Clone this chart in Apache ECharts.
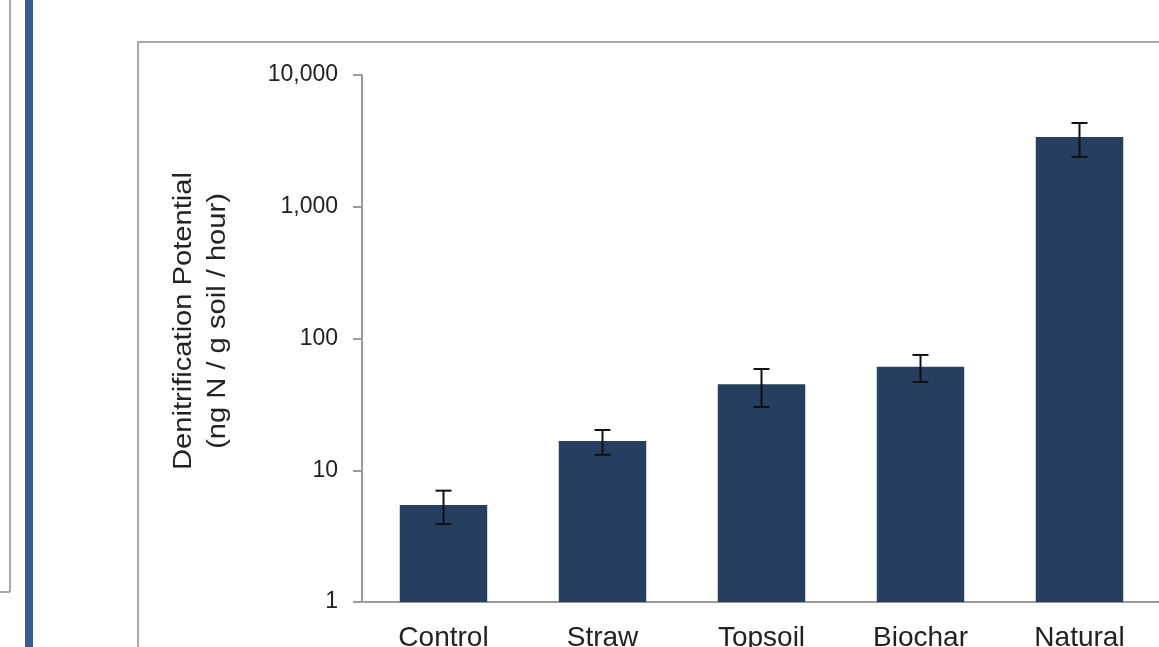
<!DOCTYPE html>
<html>
<head>
<meta charset="utf-8">
<script src="https://cdn.jsdelivr.net/npm/echarts@6/dist/echarts.min.js"></script>
<style>
  html, body { margin: 0; padding: 0; background: #fff; }
  #chart { width: 1159px; height: 647px; }
</style>
</head>
<body>
<div id="chart"></div>
<script>
// data
var categories = ['Control', 'Straw', 'Topsoil', 'Biochar', 'Natural'];
var means = [5.45, 16.7, 45, 61, 3380];
var errLow = [3.9, 13.1, 30.2, 46.8, 2390];
var errHigh = [7.0, 20.2, 58.7, 75, 4320];

var myChart = echarts.init(document.getElementById('chart'));

var errData = categories.map(function (c, i) {
    return [i, errLow[i], errHigh[i]];
});

var option = {
    animation: false,
    grid: { left: 364, top: 75, right: 0, bottom: 45, containLabel: false, outerBoundsMode: 'none' },
    xAxis: {
        type: 'category',
        data: categories,
        axisLine: { lineStyle: { color: '#9a9a9a', width: 2 } },
        axisTick: { show: false },
        axisLabel: { color: '#222', fontSize: 28, fontFamily: 'Liberation Sans, Arial', margin: 22 }
    },
    yAxis: {
        type: 'log',
        logBase: 10,
        min: 1,
        max: 10000,
        interval: 1,
        offset: 2,
        axisLine: { show: true, lineStyle: { color: '#9a9a9a', width: 2 } },
        axisTick: { show: true, length: 9, lineStyle: { color: '#9a9a9a', width: 2 } },
        splitLine: { show: false },
        axisLabel: {
            color: '#222',
            fontSize: 23,
            fontFamily: 'Liberation Sans, Arial',
            margin: 24,
            formatter: function (v) {
                return Math.round(v).toLocaleString('en-US');
            }
        }
    },
    graphic: [
        // left panel edge
        { type: 'line', shape: { x1: 10, y1: 0, x2: 10, y2: 592 }, style: { stroke: '#a8a8a8', lineWidth: 2 } },
        { type: 'line', shape: { x1: 0, y1: 592, x2: 10, y2: 592 }, style: { stroke: '#a8a8a8', lineWidth: 2 } },
        // blue divider
        { type: 'rect', shape: { x: 25, y: 0, width: 8, height: 647 }, style: { fill: '#375d8a' } },
        // chart border
        { type: 'rect', shape: { x: 138, y: 42, width: 1100, height: 700 }, style: { fill: 'none', stroke: '#a8a8a8', lineWidth: 2 } },
        // y title, stretched a little like the original slide text
        {
            type: 'text',
            x: 201, y: 321,
            rotation: Math.PI / 2,
            scaleX: 1.12,
            style: {
                text: 'Denitrification Potential\n(ng N / g soil / hour)',
                fontSize: 26,
                fontFamily: 'Liberation Sans, Arial',
                fill: '#222',
                align: 'center',
                verticalAlign: 'middle',
                lineHeight: 34
            }
        }
    ],
    series: [{
        type: 'bar',
        data: means,
        barWidth: '55%',
        itemStyle: { color: '#263f60' }
    }, {
        type: 'custom',
        data: errData,
        z: 10,
        renderItem: function (params, api) {
            var x = api.value(0);
            var lo = api.coord([x, api.value(1)]);
            var hi = api.coord([x, api.value(2)]);
            var half = 8;
            var st = { stroke: '#111', lineWidth: 2 };
            return {
                type: 'group',
                children: [
                    { type: 'line', shape: { x1: lo[0], y1: lo[1], x2: hi[0], y2: hi[1] }, style: st },
                    { type: 'line', shape: { x1: hi[0] - half, y1: hi[1], x2: hi[0] + half, y2: hi[1] }, style: st },
                    { type: 'line', shape: { x1: lo[0] - half, y1: lo[1], x2: lo[0] + half, y2: lo[1] }, style: st }
                ]
            };
        }
    }]
};

myChart.setOption(option);
</script>
</body>
</html>
